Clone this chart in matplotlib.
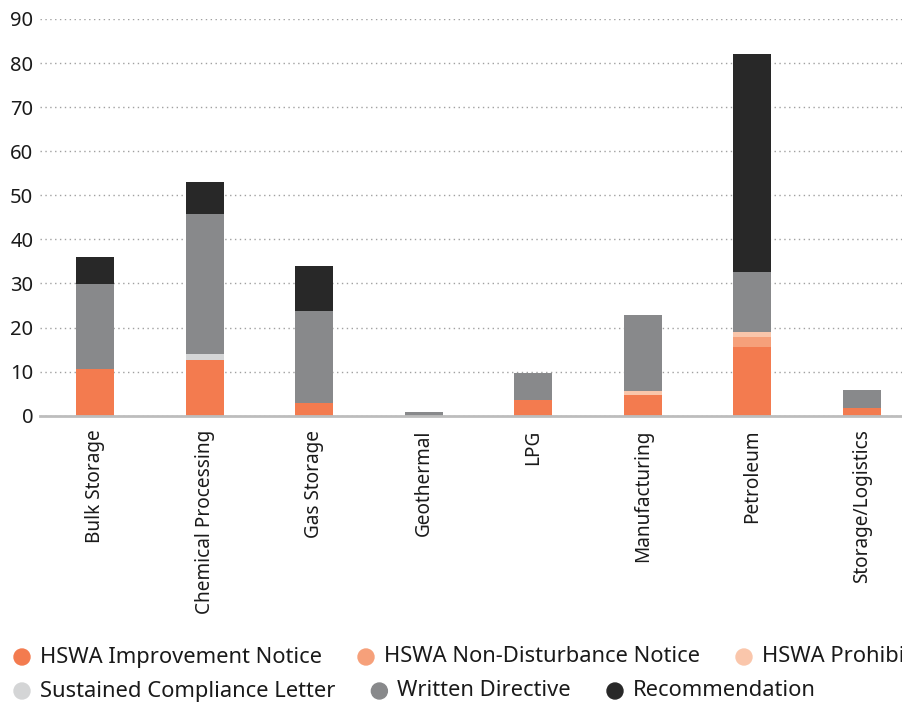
import matplotlib
matplotlib.use("Agg")
import matplotlib.pyplot as plt
import numpy as np

# Enforcement actions by industry, stacked by action type
categories = ["Bulk Storage", "Chemical Processing", "Gas Storage", "Geothermal",
              "LPG", "Manufacturing", "Petroleum", "Storage/Logistics"]

improvement = [10.5, 12.6, 2.8, 0, 3.6, 4.7, 15.6, 1.8]
non_disturbance = [0, 0, 0, 0, 0, 0, 2.3, 0]
prohibition = [0, 0, 0, 0, 0, 0.9, 1.1, 0]
sustained = [0, 1.4, 0, 0, 0, 0, 0, 0]
written = [19.4, 31.7, 21.0, 0.8, 6.1, 17.2, 13.6, 4.0]
recommendation = [6.1, 7.3, 10.2, 0, 0, 0, 49.5, 0]

series = [
    ("HSWA Improvement Notice", improvement, "#f37b4f"),
    ("HSWA Non-Disturbance Notice", non_disturbance, "#f6a07a"),
    ("HSWA Prohibition Notice", prohibition, "#fac6ab"),
    ("Sustained Compliance Letter", sustained, "#d4d5d6"),
    ("Written Directive", written, "#88898b"),
    ("Recommendation", recommendation, "#282828"),
]

plt.rcParams["font.family"] = ["Noto Sans", "DejaVu Sans"]
text_color = "#1a1a1a"

fig = plt.figure(figsize=(9.02, 7.02), dpi=100)
# axes runs past the right edge of the canvas on purpose
ax = fig.add_axes([40.2 / 902, 1 - 415.7 / 702, 876.6 / 902, 396.7 / 702])

x = np.arange(len(categories))
bottom = np.zeros(len(categories))
for name, vals, color in series:
    vals = np.array(vals, dtype=float)
    ax.bar(x, vals, width=0.347, bottom=bottom, color=color, label=name, zorder=3)
    bottom += vals

ax.set_xlim(-0.5, len(categories) - 0.5)
ax.set_ylim(0, 90)
ax.set_yticks(range(0, 91, 10))
ax.yaxis.grid(True, linestyle=(0, (1, 2.5)), color="#a0a0a0", linewidth=1.0, zorder=0)
for side in ["top", "right", "left"]:
    ax.spines[side].set_visible(False)
ax.spines["bottom"].set_color("#bdbdbd")
ax.spines["bottom"].set_linewidth(2)
ax.spines["bottom"].set_zorder(4)
ax.tick_params(axis="y", length=0, pad=5, labelsize=14.5, labelcolor=text_color)
ax.tick_params(axis="x", length=0, pad=10, labelsize=13.7, labelcolor=text_color)
ax.set_xticks(x)
ax.set_xticklabels(categories, rotation=90, va="top", ha="center")
for lbl in ax.get_yticklabels():
    lbl.set_horizontalalignment("right")

# flowing legend in two rows along the bottom
rows = [series[:3], series[3:]]
row_y = [657, 691]
fig.canvas.draw()
renderer = fig.canvas.get_renderer()
for row, ypix in zip(rows, row_y):
    xpix = 22
    for name, vals, color in row:
        fy = 1 - ypix / 702
        fig.patches.append(matplotlib.patches.Ellipse(
            (xpix / 902, fy), 16 / 902, 16 / 702, transform=fig.transFigure,
            color=color, figure=fig))
        t = fig.text((xpix + 18) / 902, fy, name, fontsize=15.8, color=text_color,
                     va="center", ha="left")
        w = t.get_window_extent(renderer).width
        xpix = xpix + 18 + w + 44

fig.savefig("out.png", dpi=100)
